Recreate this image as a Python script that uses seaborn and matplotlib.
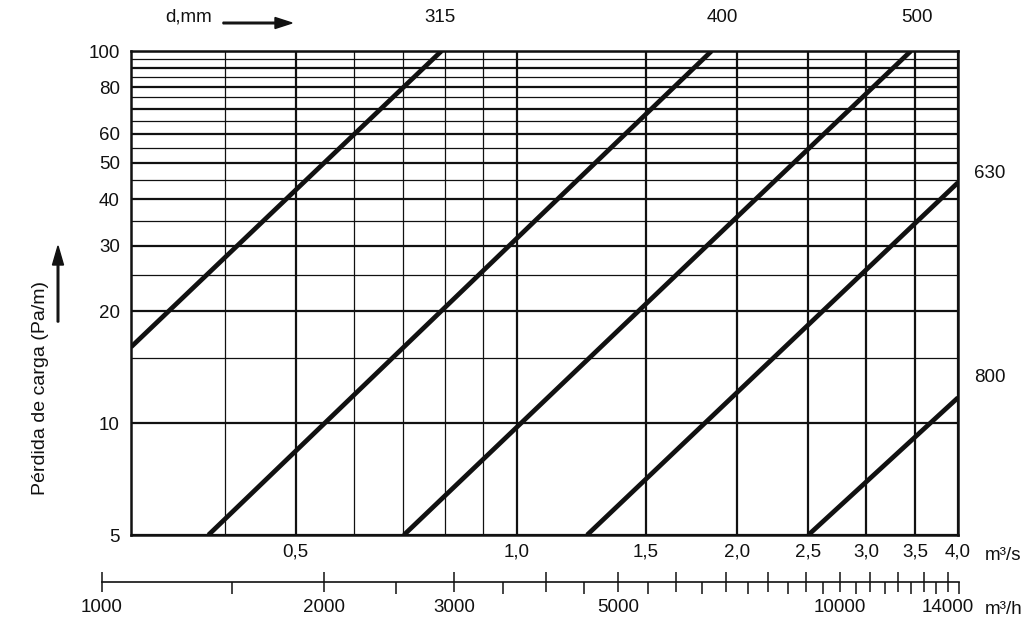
import matplotlib
matplotlib.use('Agg')
import matplotlib.pyplot as plt
import pandas as pd
import seaborn as sns
from matplotlib.ticker import FixedLocator, FixedFormatter, NullFormatter

# Duct diameters (mm) and the ends of each line where it meets the frame:
# flow (m3/s), loss (Pa/m)
diameters = ['315', '400', '500', '630', '800']
flow_315 = [0.298, 0.79]
loss_315 = [16.0, 100]
flow_400 = [0.38, 1.845]
loss_400 = [5, 100]
flow_500 = [0.702, 3.45]
loss_500 = [5, 100]
flow_630 = [1.248, 4.0]
loss_630 = [5, 44.3]
flow_800 = [2.5, 4.0]
loss_800 = [5, 11.7]

# axis ticks
flow_ticks = [0.5, 1.0, 1.5, 2.0, 2.5, 3.0, 3.5, 4.0]
flow_tick_labels = ['0,5', '1,0', '1,5', '2,0', '2,5', '3,0', '3,5', '4,0']
flow_minor = [0.4, 0.6, 0.7, 0.8, 0.9]
loss_ticks = [5, 10, 20, 30, 40, 50, 60, 70, 80, 90, 100]
loss_tick_labels = ['5', '10', '20', '30', '40', '50', '60', '', '80', '', '100']
loss_minor = [15, 25, 35, 45, 55, 65, 75, 85, 95]
hour_ticks = list(range(1000, 15000, 1000))
hour_labeled = [1000, 2000, 3000, 5000, 10000, 14000]
hour_minor = list(range(1500, 15000, 1000))

flows = [flow_315, flow_400, flow_500, flow_630, flow_800]
losses = [loss_315, loss_400, loss_500, loss_630, loss_800]
df = pd.concat([pd.DataFrame({'flow': f, 'loss': l, 'd': d})
                for f, l, d in zip(flows, losses, diameters)], ignore_index=True)

sns.set_style('white')
plt.rcParams['font.family'] = ['Liberation Sans', 'DejaVu Sans']
ink = '#111111'
fs = 13.5

W, H = 1030, 640
fig = plt.figure(figsize=(W / 100, H / 100), dpi=100)
ax = fig.add_axes([131 / W, 1 - 535 / H, 827 / W, 484 / H])

sns.lineplot(data=df, x='flow', y='loss', units='d', estimator=None, sort=False,
             color=ink, lw=3.4, legend=False, ax=ax, solid_capstyle='butt')

ax.set_xscale('log')
ax.set_yscale('log')
ax.set_xlim(0.298, 4.0)
ax.set_ylim(5, 100)

ax.xaxis.set_major_locator(FixedLocator(flow_ticks))
ax.xaxis.set_major_formatter(FixedFormatter(flow_tick_labels))
ax.xaxis.set_minor_locator(FixedLocator(flow_minor))
ax.xaxis.set_minor_formatter(NullFormatter())
ax.yaxis.set_major_locator(FixedLocator(loss_ticks))
ax.yaxis.set_major_formatter(FixedFormatter(loss_tick_labels))
ax.yaxis.set_minor_locator(FixedLocator(loss_minor))
ax.yaxis.set_minor_formatter(NullFormatter())

ax.set_axisbelow(True)
ax.grid(which='major', color=ink, lw=1.6)
ax.grid(which='minor', color=ink, lw=0.9)
ax.tick_params(which='both', length=0, labelsize=fs, colors=ink)
ax.tick_params(axis='x', pad=6)
ax.tick_params(axis='y', pad=8)
for s in ax.spines.values():
    s.set_visible(True)
    s.set_color(ink)
    s.set_linewidth(1.8)
ax.set_xlabel('')
ax.set_ylabel('')

# m3/h ruler below the chart
rx = fig.add_axes([102 / W, 1 - 582 / H, 857 / W, 0.0001])
rx.set_xscale('log')
rx.set_xlim(1000, 14500)
rx.set_yticks([])
rx.patch.set_alpha(0)
for side in ['top', 'left', 'right']:
    rx.spines[side].set_visible(False)
rx.spines['bottom'].set_linewidth(1.2)
rx.spines['bottom'].set_color(ink)
rx.xaxis.set_major_locator(FixedLocator(hour_ticks))
rx.xaxis.set_major_formatter(FixedFormatter(
    [str(v) if v in hour_labeled else '' for v in hour_ticks]))
rx.xaxis.set_minor_locator(FixedLocator(hour_minor))
rx.xaxis.set_minor_formatter(NullFormatter())
rx.tick_params(which='both', bottom=True, top=False)
rx.tick_params(which='major', direction='inout', length=15, width=1.1,
               labelsize=fs, colors=ink, pad=5)
rx.tick_params(which='minor', direction='out', length=8.5, width=1.1, colors=ink)

# unit texts and diameter labels
fig.text(985 / W, 1 - 555 / H, 'm³/s', fontsize=fs, color=ink, va='center')
fig.text(985 / W, 1 - 609 / H, 'm³/h', fontsize=fs, color=ink, va='center')
fig.text(189 / W, 1 - 17 / H, 'd,mm', fontsize=fs, color=ink, ha='center', va='center')
fig.patches.append(matplotlib.patches.FancyArrow(
    223 / W, 1 - 23 / H, 52 / W, 0, width=1.6 / H, head_width=11 / H,
    head_length=17 / W, length_includes_head=False, color=ink,
    transform=fig.transFigure, figure=fig))
label_pos = {'315': (440, 17), '400': (722, 17), '500': (917, 17),
             '630': (990, 173), '800': (990, 377)}
for d in diameters:
    px, py = label_pos[d]
    fig.text(px / W, 1 - py / H, d, fontsize=fs, color=ink, ha='center', va='center')

fig.text(41 / W, 1 - 388 / H, 'Pérdida de carga (Pa/m)', fontsize=14, color=ink,
         rotation=90, ha='center', va='center')
fig.patches.append(matplotlib.patches.FancyArrow(
    58 / W, 1 - 322 / H, 0, 57 / H, width=1.6 / W, head_width=11 / W,
    head_length=19 / H, length_includes_head=False, color=ink,
    transform=fig.transFigure, figure=fig))

fig.savefig('out.png', dpi=100, facecolor='white')
